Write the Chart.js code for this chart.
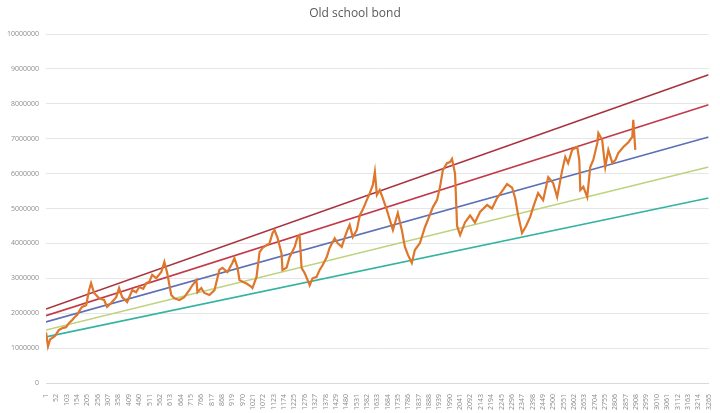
<!DOCTYPE html>
<html>
<head>
<meta charset="utf-8">
<script src="https://cdn.jsdelivr.net/npm/chart.js@4"></script>
<style>
  html, body { margin: 0; padding: 0; background: #fff; }
  #wrap { width: 720px; height: 413px; }
</style>
</head>
<body>
<div id="wrap"><canvas id="bondChart" width="720" height="413"></canvas></div>
<script>
// day index of each reading and the bond price at that day
const dayIndex = [
    1, 11, 21, 31, 45, 65, 85, 100, 115, 129, 144, 154, 169, 179, 199, 213, 223, 238, 263, 287,
    302, 322, 347, 361, 376, 401, 426, 445, 460, 480, 495, 510, 524, 544, 569, 584, 598, 618, 633, 658,
    682, 707, 722, 742, 747, 766, 781, 806, 831, 855, 870, 895, 919, 929, 944, 954, 969, 989, 1014, 1018,
    1038, 1053, 1068, 1087, 1102, 1117, 1127, 1142, 1161, 1166, 1186, 1201, 1226, 1240, 1250, 1260, 1275, 1290, 1300, 1314,
    1334, 1349, 1364, 1384, 1398, 1423, 1438, 1458, 1473, 1487, 1497, 1512, 1532, 1547, 1561, 1581, 1596, 1611, 1621, 1631,
    1645, 1660, 1680, 1695, 1710, 1734, 1754, 1769, 1784, 1803, 1818, 1843, 1868, 1882, 1907, 1927, 1942, 1956, 1976, 1991,
    2001, 2016, 2026, 2041, 2065, 2090, 2114, 2139, 2174, 2198, 2223, 2248, 2272, 2297, 2312, 2327, 2346, 2366, 2386, 2401,
    2425, 2450, 2475, 2499, 2519, 2544, 2559, 2573, 2593, 2618, 2628, 2633, 2648, 2667, 2682, 2697, 2717, 2722, 2741, 2746,
    2756, 2771, 2791, 2806, 2820, 2845, 2870, 2889, 2894, 2904
];
const priceValues = [
    1450000, 1050000, 1250000, 1290000, 1350000, 1520000, 1580000, 1600000, 1720000, 1800000,
    1900000, 1950000, 2100000, 2180000, 2230000, 2660000, 2860000, 2580000, 2430000, 2380000,
    2180000, 2290000, 2460000, 2720000, 2460000, 2320000, 2660000, 2600000, 2750000, 2700000,
    2860000, 2900000, 3100000, 3000000, 3180000, 3470000, 3150000, 2520000, 2430000, 2380000,
    2460000, 2660000, 2800000, 2950000, 2600000, 2720000, 2580000, 2520000, 2660000, 3240000,
    3300000, 3180000, 3440000, 3580000, 3320000, 2950000, 2900000, 2850000, 2750000, 2720000,
    3040000, 3750000, 3870000, 3950000, 4000000, 4300000, 4380000, 4150000, 3720000, 3240000,
    3300000, 3610000, 3900000, 4180000, 4240000, 3300000, 3150000, 2950000, 2800000, 3000000,
    3040000, 3240000, 3380000, 3610000, 3870000, 4150000, 4000000, 3900000, 4180000, 4400000,
    4530000, 4180000, 4380000, 4810000, 4960000, 5240000, 5440000, 5670000, 6050000, 5390000,
    5530000, 5300000, 4960000, 4670000, 4380000, 4870000, 4380000, 3900000, 3670000, 3440000,
    3810000, 4010000, 4470000, 4670000, 5040000, 5240000, 5620000, 6100000, 6300000, 6330000,
    6420000, 6000000, 4500000, 4240000, 4600000, 4800000, 4600000, 4900000, 5100000, 5000000,
    5300000, 5500000, 5700000, 5600000, 5300000, 4800000, 4300000, 4500000, 4760000, 5040000,
    5440000, 5240000, 5900000, 5730000, 5330000, 6100000, 6480000, 6300000, 6680000, 6760000,
    6390000, 5530000, 5620000, 5330000, 6190000, 6390000, 6880000, 7160000, 6960000, 6680000,
    6190000, 6680000, 6300000, 6390000, 6590000, 6760000, 6900000, 7050000, 7540000, 6680000
];

// channel lines: value at the first and last day
const channelEnds = [1, 3265];
const channelTop = [2120000, 8830000];
const channelUpper = [1930000, 7970000];
const channelMid = [1750000, 7050000];
const channelLower = [1520000, 6190000];
const channelBottom = [1320000, 5300000];

const xTicks = [
    1, 52, 103, 154, 205, 256, 307, 358, 409, 460, 511, 562, 613, 664, 715, 766, 817, 868, 919, 970,
    1021, 1072, 1123, 1174, 1225, 1276, 1327, 1378, 1429, 1480, 1531, 1582, 1633, 1684, 1735, 1786, 1837, 1888, 1939, 1990,
    2041, 2092, 2143, 2194, 2245, 2296, 2347, 2398, 2449, 2500, 2551, 2602, 2653, 2704, 2755, 2806, 2857, 2908, 2959, 3010,
    3061, 3112, 3163, 3214, 3265
];

function toPoints(xs, ys) {
    return xs.map((x, i) => ({ x: x, y: ys[i] }));
}

function channel(values, color) {
    return {
        data: toPoints(channelEnds, values),
        borderColor: color,
        borderWidth: 1.6,
        pointRadius: 0,
        tension: 0
    };
}

const ctx = document.getElementById('bondChart').getContext('2d');
const bondChart = new Chart(ctx, {
    type: 'line',
    data: {
        datasets: [
            {
                data: toPoints(dayIndex, priceValues),
                borderColor: '#DE762B',
                borderWidth: 2.2,
                pointRadius: 0,
                tension: 0
            },
            channel(channelTop, '#A8323F'),
            channel(channelUpper, '#C23A4A'),
            channel(channelMid, '#5B70B6'),
            channel(channelLower, '#BDD37F'),
            channel(channelBottom, '#33B3A0')
        ]
    },
    options: {
        responsive: false,
        animation: false,
        layout: { padding: { left: 0, right: 10, top: 0, bottom: 0 } },
        plugins: {
            legend: { display: false },
            tooltip: { enabled: false },
            title: {
                display: true,
                text: 'Old school bond',
                color: '#595959',
                font: { family: 'Open Sans', size: 12, weight: 'normal', lineHeight: 1.2 },
                padding: { top: 6, bottom: 13.6 }
            }
        },
        scales: {
            x: {
                type: 'linear',
                min: 1,
                max: 3265,
                afterBuildTicks: function(scale) {
                    scale.ticks = xTicks.map(v => ({ value: v }));
                },
                afterFit: function(scale) {
                    scale.height = 30;
                },
                grid: { display: false },
                border: { display: true, color: '#D9D9D9', width: 1 },
                ticks: {
                    autoSkip: false,
                    minRotation: 90,
                    maxRotation: 90,
                    padding: 3,
                    color: '#8C8C8C',
                    font: { family: 'Open Sans', size: 7 },
                    callback: function(value) { return String(value); }
                }
            },
            y: {
                min: 0,
                max: 10000000,
                afterFit: function(scale) {
                    scale.width = 46;
                },
                grid: { color: '#E6E6E6', drawTicks: false },
                border: { display: false },
                ticks: {
                    stepSize: 1000000,
                    padding: 7,
                    color: '#8C8C8C',
                    font: { family: 'Open Sans', size: 7 },
                    callback: function(value) { return String(value); }
                }
            }
        }
    }
});
</script>
</body>
</html>
